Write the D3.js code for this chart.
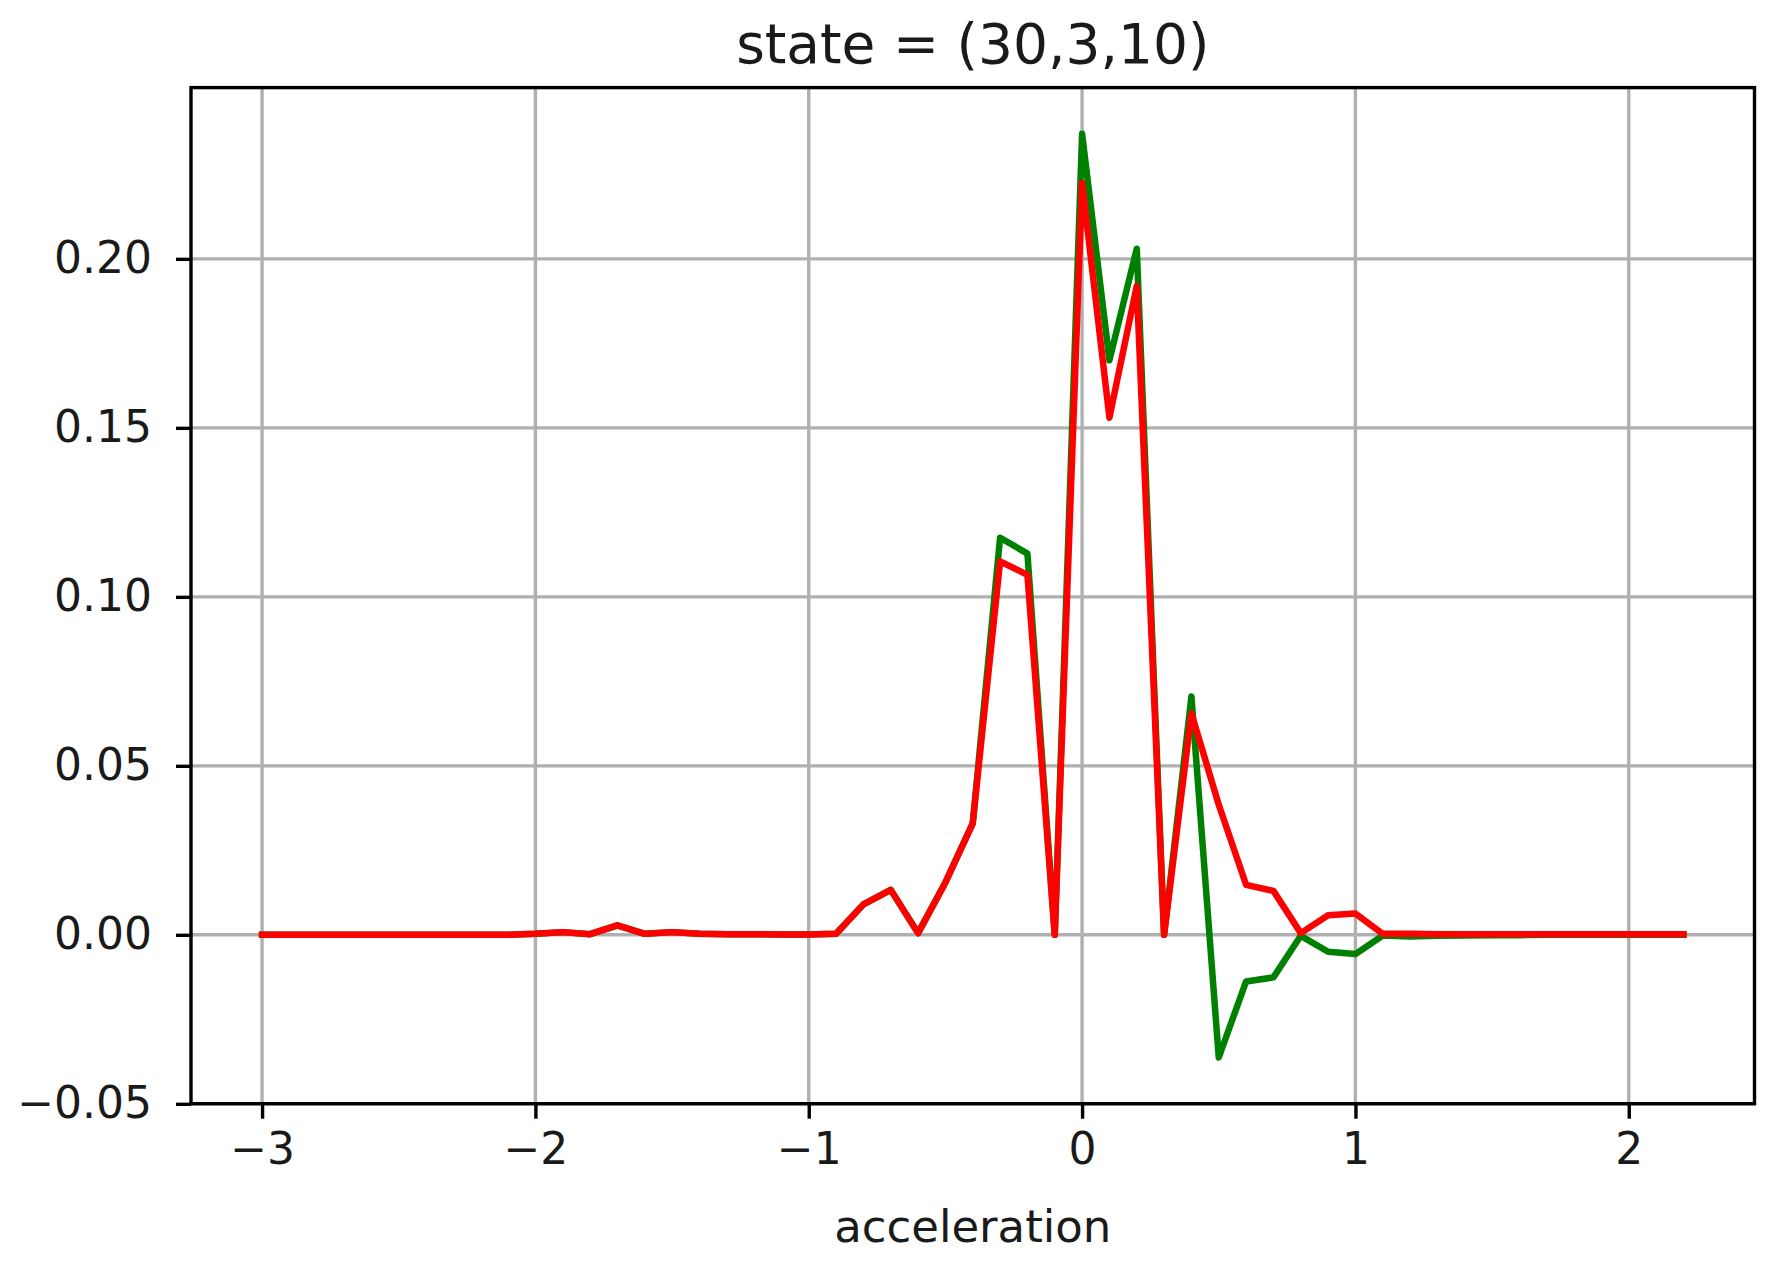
<!DOCTYPE html>
<html>
<head>
<meta charset="utf-8">
<script src="https://cdn.jsdelivr.net/npm/d3@7"></script>
<style>
  html, body { margin: 0; padding: 0; background: #fff; }
  text { font-family: "DejaVu Sans", sans-serif; fill: #1a1a1a; }
</style>
</head>
<body>
<svg id="chart" width="1784" height="1264"></svg>
<script>
// ---- data ----
const accel = [-3.0,-2.9,-2.8,-2.7,-2.6,-2.5,-2.4,-2.3,-2.2,-2.1,
  -2.0,-1.9,-1.8,-1.7,-1.6,-1.5,-1.4,-1.3,-1.2,-1.1,
  -1.0,-0.9,-0.8,-0.7,-0.6,-0.5,-0.4,-0.3,-0.2,-0.1,
  0.0,0.1,0.2,0.3,0.4,0.5,0.6,0.7,0.8,0.9,
  1.0,1.1,1.2,1.3,1.4,1.5,1.6,1.7,1.8,1.9,
  2.0,2.1,2.2];
const greenValues = [0,0,0,0,0,0,0,0,0,0,
  0.0003,0.0008,0.0002,0.0028,0.0003,0.0008,0.0003,0.0002,0.0002,0.0001,
  0.0001,0.0003,0.0090,0.0133,0.0005,0.0155,0.0330,0.1175,0.1128,0.0,
  0.2370,0.1700,0.2030,0.0,0.0705,-0.0363,-0.0138,-0.0126,-0.0003,-0.0050,
  -0.0057,-0.0002,-0.0005,-0.0003,-0.0002,-0.0001,-0.0001,0,0,0,
  0,0,0];
const redValues = [0,0,0,0,0,0,0,0,0,0,
  0.0003,0.0008,0.0002,0.0028,0.0003,0.0008,0.0003,0.0002,0.0002,0.0001,
  0.0001,0.0003,0.0090,0.0133,0.0005,0.0155,0.0330,0.1105,0.1065,0.0,
  0.2225,0.1530,0.1920,0.0,0.0655,0.0385,0.0148,0.0130,0.0005,0.0058,
  0.0063,0.0003,0.0003,0.0002,0.0002,0.0002,0.0002,0.0002,0.0002,0.0002,
  0.0002,0.0002,0.0002];
const xTicks = [-3,-2,-1,0,1,2];
const yTicks = [-0.05,0.00,0.05,0.10,0.15,0.20];
const titleText = "state = (30,3,10)";
const xLabel = "acceleration";

// ---- layout ----
const W = 1784, H = 1264;
const mLeft = 191, mRight = 1754.5, mTop = 87.6, mBottom = 1103.7;

const svg = d3.select("#chart");
svg.append("rect").attr("width", W).attr("height", H).attr("fill", "#fff");

const xmin = d3.min(accel), xmax = d3.max(accel);
const xpad = (xmax - xmin) * 0.05;
const allY = greenValues.concat(redValues);
const ymin = d3.min(allY), ymax = d3.max(allY);
const ypad = (ymax - ymin) * 0.05;

const x = d3.scaleLinear().domain([xmin - xpad, xmax + xpad]).range([mLeft, mRight]);
const y = d3.scaleLinear().domain([ymin - ypad, ymax + ypad]).range([mBottom, mTop]);

// grid
const grid = svg.append("g").attr("stroke", "#b0b0b0").attr("stroke-width", 3.4);
grid.selectAll("line.vx").data(xTicks).enter().append("line")
  .attr("x1", d => x(d)).attr("x2", d => x(d)).attr("y1", mTop).attr("y2", mBottom);
grid.selectAll("line.hy").data(yTicks).enter().append("line")
  .attr("x1", mLeft).attr("x2", mRight).attr("y1", d => y(d)).attr("y2", d => y(d));

// lines
const line = d3.line().x((d, i) => x(accel[i])).y(d => y(d));
svg.append("path").datum(greenValues).attr("d", line)
  .attr("fill", "none").attr("stroke", "#008000").attr("stroke-width", 6.5)
  .attr("stroke-linejoin", "round").attr("stroke-linecap", "square");
svg.append("path").datum(redValues).attr("d", line)
  .attr("fill", "none").attr("stroke", "#f00").attr("stroke-width", 6.5)
  .attr("stroke-linejoin", "round").attr("stroke-linecap", "square");

// axes
const fmtX = d3.format("d");
const xAxis = d3.axisBottom(x).tickValues(xTicks).tickFormat(fmtX).tickSize(15).tickPadding(14);
const yAxis = d3.axisLeft(y).tickValues(yTicks).tickFormat(d3.format(".2f")).tickSize(15).tickPadding(24);

const gx = svg.append("g").attr("transform", `translate(0,${mBottom})`).call(xAxis);
const gy = svg.append("g").attr("transform", `translate(${mLeft},0)`).call(yAxis);
[gx, gy].forEach(g => {
  g.select(".domain").remove();
  g.selectAll(".tick line").attr("stroke", "#000").attr("stroke-width", 3.4);
  g.selectAll(".tick text").attr("font-size", 44).attr("font-family", "DejaVu Sans").attr("fill", "#1a1a1a");
});

// spines
svg.append("rect").attr("x", mLeft).attr("y", mTop)
  .attr("width", mRight - mLeft).attr("height", mBottom - mTop)
  .attr("fill", "none").attr("stroke", "#000").attr("stroke-width", 3.4);

// title and label
svg.append("text").attr("x", (mLeft + mRight) / 2).attr("y", 63)
  .attr("text-anchor", "middle").attr("font-size", 55).text(titleText);
svg.append("text").attr("x", (mLeft + mRight) / 2).attr("y", 1242)
  .attr("text-anchor", "middle").attr("font-size", 45).text(xLabel);
</script>
</body>
</html>
